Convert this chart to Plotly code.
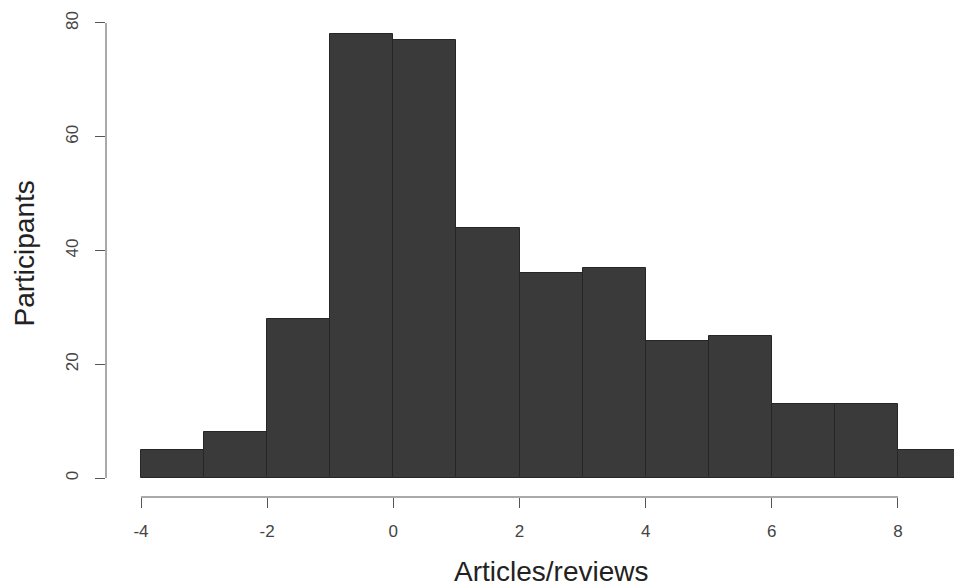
import plotly.graph_objects as go

bin_edges = [-4, -3, -2, -1, 0, 1, 2, 3, 4, 5, 6, 7, 8, 9]
counts = [5, 8, 28, 78, 77, 44, 36, 37, 24, 25, 13, 13, 5]
x_ticks = [-4, -2, 0, 2, 4, 6, 8]
y_ticks = [0, 20, 40, 60, 80]

centers = [(a + b) / 2 for a, b in zip(bin_edges[:-1], bin_edges[1:])]
widths = [b - a for a, b in zip(bin_edges[:-1], bin_edges[1:])]

fig = go.Figure()
fig.add_trace(go.Bar(
    x=centers, y=counts, width=widths,
    marker=dict(color="#3a3a3a", line=dict(color="#262626", width=1)),
    hoverinfo="x+y",
))

font_family = "Liberation Sans, Arial, sans-serif"

fig.update_layout(
    width=954, height=586,
    margin=dict(l=106, r=0, t=10, b=89),
    paper_bgcolor="white", plot_bgcolor="white",
    showlegend=False, bargap=0,
    font=dict(family=font_family, color="#444"),
    xaxis=dict(
        range=[-4.555, 8.888], tickvals=x_ticks, ticktext=[str(v) for v in x_ticks],
        ticks="outside", ticklen=10, tickcolor="#555", tickwidth=1,
        showgrid=False, zeroline=False, showline=False, automargin=False,
        tickfont=dict(size=17, color="#444"), ticklabelstandoff=9,
    ),
    yaxis=dict(
        range=[-3.341, 82.28], tickvals=y_ticks, ticktext=[str(v) for v in y_ticks],
        ticks="outside", ticklen=10, tickcolor="#555", tickwidth=1, tickangle=-90,
        showgrid=False, zeroline=False, showline=False, automargin=False,
        tickfont=dict(size=17, color="#444"), ticklabelstandoff=10,
    ),
    annotations=[
        dict(text="Articles/reviews", xref="x", yref="paper", x=2.5, y=0,
             yshift=-74, xanchor="center", yanchor="middle", showarrow=False,
             font=dict(size=28, color="#222")),
        dict(text="Participants", xref="paper", yref="paper", x=0, y=0.5,
             xshift=-82, xanchor="center", yanchor="middle", textangle=-90,
             showarrow=False, font=dict(size=28, color="#222")),
    ],
)

# R-style axis lines spanning only the tick range
fig.add_shape(type="line", xref="x", yref="paper", x0=min(x_ticks), x1=max(x_ticks), y0=0, y1=0,
              line=dict(color="#555", width=1))
fig.add_shape(type="line", xref="paper", yref="y", x0=0, x1=0, y0=min(y_ticks), y1=max(y_ticks),
              line=dict(color="#555", width=1))

# remove the browser's default page margin so the figure fills the window exactly
fig.write_html(
    "out.html",
    config={"displayModeBar": False},
    post_script="document.body.style.margin='0';document.body.style.overflow='hidden';",
)
